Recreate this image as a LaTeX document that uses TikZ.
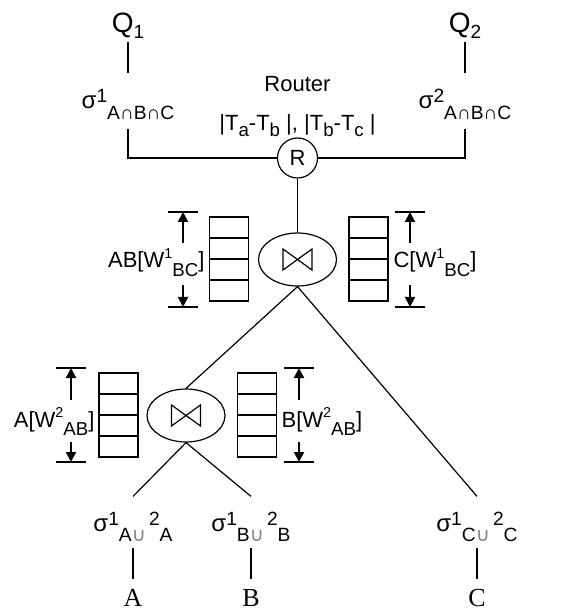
\documentclass[tikz,border=0pt]{standalone}
\usepackage{fontspec}
\setmainfont{Liberation Sans}
\newfontfamily\serifABC{Liberation Serif}
\newfontfamily\symfont{DejaVu Sans}
\usetikzlibrary{arrows.meta, positioning, shapes.geometric}

\makeatletter
% raised / lowered index: [shift in em]{size ratio}{text}
\newcommand{\hi}[3][0.25]{\raisebox{#1em}{\fontsize{\the\dimexpr #2\dimexpr\f@size pt\relax\relax}{0pt}\selectfont #3}}
\newcommand{\lo}[3][0.45]{\raisebox{-#1em}{\fontsize{\the\dimexpr #2\dimexpr\f@size pt\relax\relax}{0pt}\selectfont #3}}
\makeatother
\newcommand{\cupA}{\textcolor{gray}{\symfont ∪}}

\begin{document}
\begin{tikzpicture}[
    x=0.5pt, y=-0.5pt,
    line width=0.6pt,
    font=\fontsize{11}{13}\selectfont,
    txt/.style={inner sep=0pt, anchor=base},
    qry/.style={txt, font=\fontsize{14}{16}\selectfont, text depth=4pt},
    sel/.style={txt, font=\fontsize{12}{14}\selectfont},
    rel/.style={txt, font=\serifABC\fontsize{13}{15}\selectfont, text height=13pt},
    joinop/.style={ellipse, draw, minimum width=39pt, minimum height=26.5pt, inner sep=0pt},
    router/.style={circle, draw, minimum size=20pt, inner sep=0pt},
    cell/.style={rectangle, draw, minimum width=19.5pt, minimum height=10.5pt, inner sep=0pt},
    dimarr/.style={-{Triangle[length=5pt, width=5pt]}, line width=1pt},
]
\useasboundingbox (0,0) rectangle (568,613);

% ============ Queries and router ============
\node[qry] (Q1) at (128,33) {Q\lo[0.18]{0.68}{1}};
\node[qry] (Q2) at (465,33) {Q\lo[0.18]{0.68}{2}};

\node[sel, text height=17.5pt, text depth=9.5pt] (s1) at (128,109)
    {σ\hi{0.8}{1}\lo{0.8}{A∩B∩C}};
\node[sel, text height=17.5pt, text depth=9.5pt] (s2) at (465,109)
    {σ\hi{0.8}{2}\lo{0.8}{A∩B∩C}};

\node[txt] (rtr) at (297.5,92) {Router};
\node[txt] (rtrd) at (297.5,131)
    {|T\lo[0.25]{0.85}{a}-T\lo[0.25]{0.85}{b} |, |T\lo[0.25]{0.85}{b}-T\lo[0.25]{0.85}{c} |};
\node[router] (R) at (297.5,158) {R};

\draw (Q1.south) -- (s1.north);
\draw (Q2.south) -- (s2.north);
\draw (s1.south) |- (R);
\draw (s2.south) |- (R);

% ============ Joins ============
\node[joinop] (j1) at (297.5,259.5) {};
\node[joinop] (j2) at (186,415.5) {};
\foreach \j in {j1,j2}
    \draw ([shift={(-14.5,-10.5)}]\j.center) -- ([shift={(14.5,10.5)}]\j.center)
        -- ([shift={(14.5,-10.5)}]\j.center) -- ([shift={(-14.5,10.5)}]\j.center) -- cycle;

% Queues (window buffers)
\foreach \q/\x/\y in {qAB/229/217, qC/368.5/217, qA/118.5/373, qB/257/373}
    \foreach \i in {1,...,4}
        \node[cell] (\q\i) at (\x,{\y+21*\i-10.5}) {};

% Window size marks
\foreach \x/\yt/\yb/\yu/\yd in {183/212/307/243/285, 410/212/307/243/285, 71/368/462/400/442, 299/368/462/400/442} {
    \draw (\x-15,\yt) -- (\x+15,\yt);
    \draw (\x-15,\yb) -- (\x+15,\yb);
    \draw[dimarr] (\x,\yu) -- (\x,\yt);
    \draw[dimarr] (\x,\yd) -- (\x,\yb);
}

\node[txt, anchor=base east] (wAB) at (205,268) {AB[W\hi[0.45]{0.65}{1}\lo[0.4]{0.85}{BC}]};
\node[txt, anchor=base west] (wC) at (393,268) {C[W\hi[0.45]{0.65}{1}\lo[0.4]{0.85}{BC}]};
\node[txt, anchor=base east] (wA) at (95,427) {A[W\hi[0.45]{0.65}{2}\lo[0.4]{0.85}{AB}]};
\node[txt, anchor=base west] (wB) at (281,427) {B[W\hi[0.45]{0.65}{2}\lo[0.4]{0.85}{AB}]};

% ============ Streams ============
\node[sel, text height=17pt, text depth=8pt] (sA) at (133,531)
    {σ\hi{0.8}{1}\lo{0.8}{A\cupA\,}\hi{0.8}{2}\lo{0.8}{A}};
\node[sel, text height=17pt, text depth=8pt] (sB) at (251,531)
    {σ\hi{0.8}{1}\lo{0.8}{B\cupA\,}\hi{0.8}{2}\lo{0.8}{B}};
\node[sel, text height=17pt, text depth=8pt] (sC) at (477,531)
    {σ\hi{0.8}{1}\lo{0.8}{C\cupA\,}\hi{0.8}{2}\lo{0.8}{C}};

\node[rel] (A) at (133,606) {A};
\node[rel] (B) at (251,606) {B};
\node[rel] (C) at (477,606) {C};

\draw (R) -- (j1);
\draw (j1.south) -- (j2.north);
\draw (j1.south) -- (sC.north);
\draw (j2.south) -- (sA.north);
\draw (j2.south) -- (sB.north);
\draw (sA) -- (A);
\draw (sB) -- (B);
\draw (sC) -- (C);

\end{tikzpicture}
\end{document}
